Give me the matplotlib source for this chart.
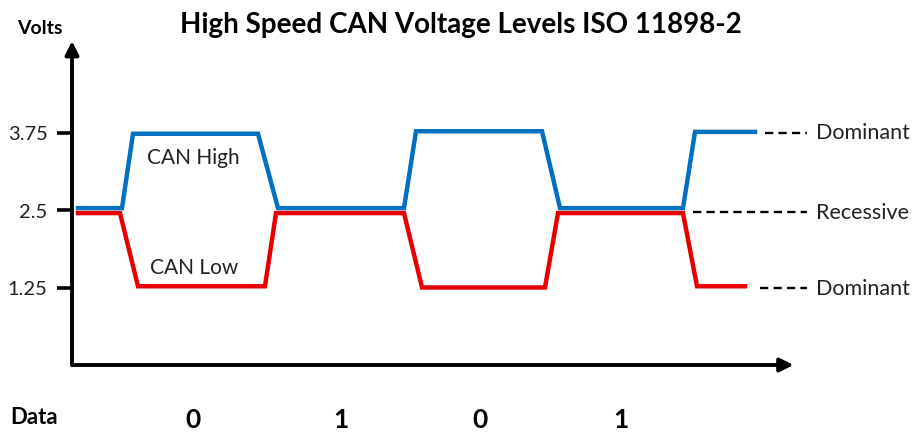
import matplotlib
matplotlib.use("Agg")
import matplotlib.pyplot as plt
import matplotlib.transforms as mtransforms

plt.rcParams['font.family'] = ['Lato', 'DejaVu Sans']

# time axis in arbitrary units, voltage in V
high_t = [78, 122, 133, 258, 278, 404, 416, 542, 560, 683, 695, 755]
high_v = [2.53, 2.53, 3.73, 3.73, 2.53, 2.53, 3.77, 3.77, 2.53, 2.53, 3.76, 3.76]
low_t = [78, 120, 138, 265, 276, 404, 422, 545, 558, 683, 697, 745]
low_v = [2.45, 2.45, 1.27, 1.27, 2.45, 2.45, 1.25, 1.25, 2.45, 2.45, 1.27, 1.27]

level_ticks = [1.25, 2.5, 3.75]
level_labels = ['1.25', '2.5', '3.75']

bits = ['0', '1', '0', '1']
bit_centers = [193, 341, 480, 621]

state_names = ['Dominant', 'Recessive', 'Dominant']
state_levels = [3.75, 2.47, 1.24]
state_dash_start = [765, 693, 760]

BLUE = '#0070C0'
RED = '#E60000'
TXT = '#222222'

fig = plt.figure(figsize=(9.17, 4.35), dpi=100)
ax = fig.add_axes([72 / 917, (435 - 366) / 435, 718 / 917, 324 / 435])
ax.set_xlim(72, 790)
ax.set_ylim(0, 324 / 62)

ax.plot(high_t, high_v, color=BLUE, lw=3.2, solid_joinstyle='miter')
ax.plot(low_t, low_v, color=RED, lw=3.2, solid_joinstyle='miter')

ax.text(193, 3.35, 'CAN High', ha='center', va='center', fontsize=15, color=TXT)
ax.text(194, 1.58, 'CAN Low', ha='center', va='center', fontsize=15, color=TXT)

# dashed pointers to the bus states
for name, lvl, x0 in zip(state_names, state_levels, state_dash_start):
    ax.plot([x0, 807], [lvl, lvl], color='black', lw=1.7, ls=(0, (3.5, 2.2)), clip_on=False)
    ax.text(816, lvl, name, ha='left', va='center', fontsize=15.5, color=TXT, clip_on=False)

# axes with arrow heads
for s in ax.spines.values():
    s.set_visible(False)
arrow = dict(arrowstyle='-|>', lw=2.8, color='black', mutation_scale=20, shrinkA=0, shrinkB=0)
ax.annotate('', xy=(0, 1), xytext=(0, 0), xycoords='axes fraction', arrowprops=arrow)
ax.annotate('', xy=(1.005, 0), xytext=(0, 0), xycoords='axes fraction', arrowprops=arrow)

ax.set_yticks(level_ticks)
ax.set_yticklabels(level_labels, fontsize=14.5, color=TXT)
ax.tick_params(axis='y', direction='out', length=11, width=2.6, pad=6.5)
ax.set_xticks([])

fig.text(40 / 917, 1 - 28 / 435, 'Volts', ha='center', va='center', fontsize=14, fontweight='bold')
fig.text(461 / 917, 1 - 25 / 435, 'High Speed CAN Voltage Levels ISO 11898-2',
         ha='center', va='center', fontsize=20, fontweight='bold')
fig.text(34 / 917, 1 - 418 / 435, 'Data', ha='center', va='center', fontsize=16, fontweight='bold')

trans = mtransforms.blended_transform_factory(ax.transData, fig.transFigure)
for b, xc in zip(bits, bit_centers):
    ax.text(xc, 1 - 420 / 435, b, transform=trans, ha='center', va='center',
            fontsize=19, fontweight='bold', clip_on=False)

fig.savefig('out.png', dpi=100)
